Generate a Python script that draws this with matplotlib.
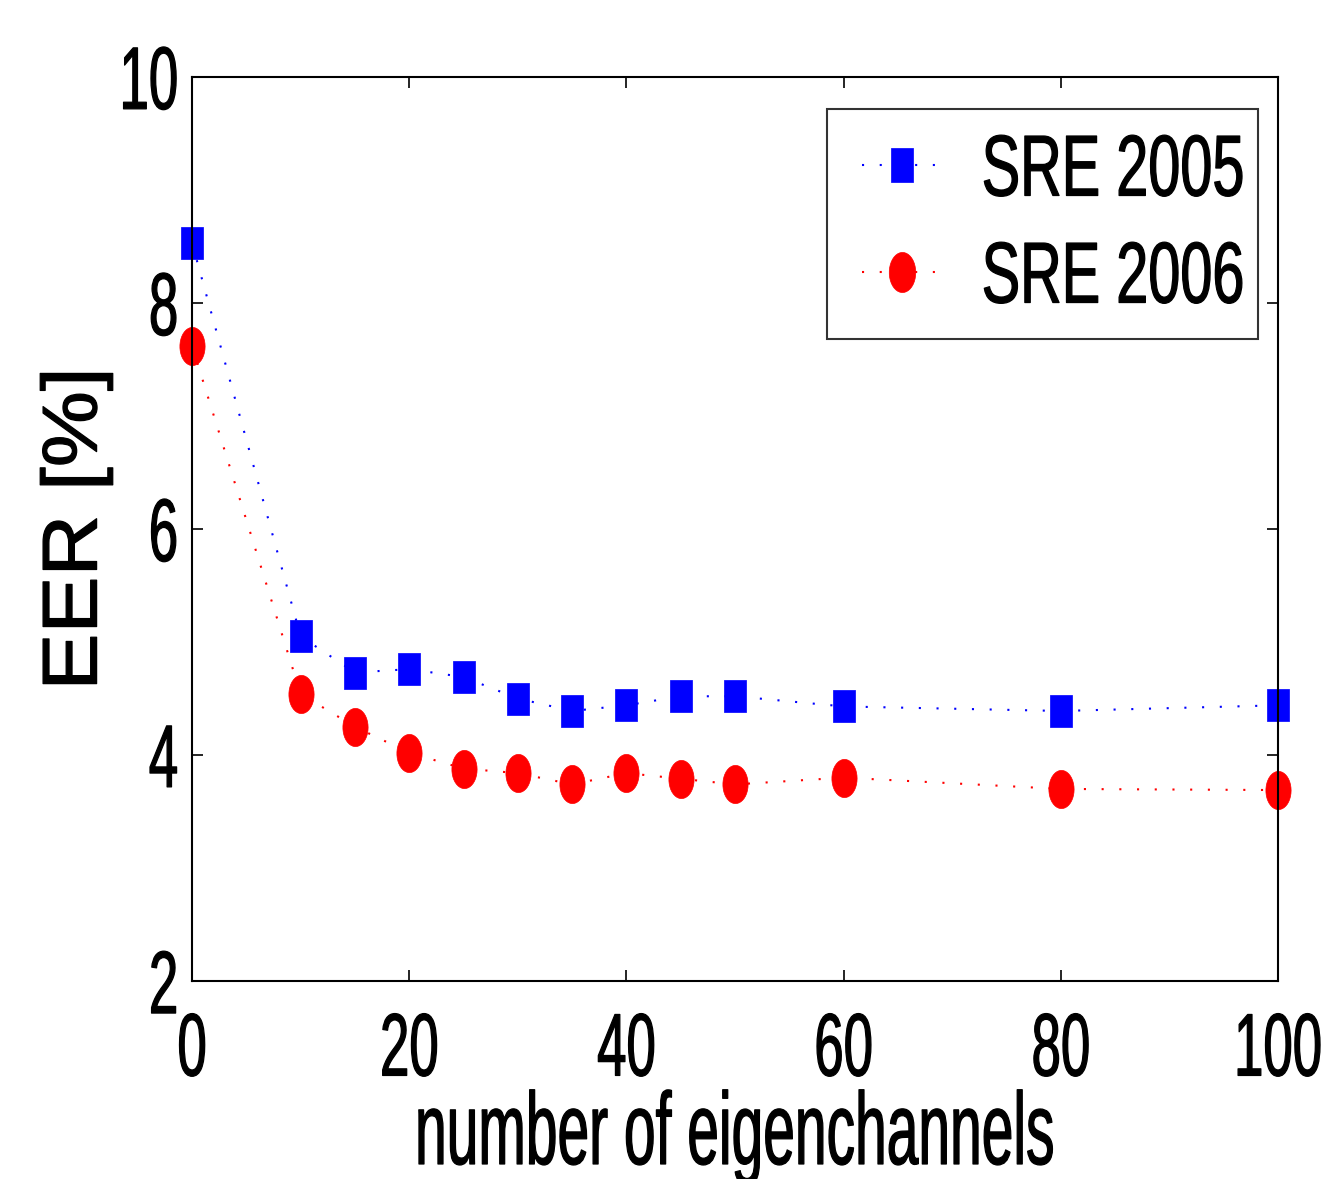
import numpy as np
import matplotlib
matplotlib.use('Agg')
import matplotlib.pyplot as plt
from matplotlib.path import Path
from matplotlib.patheffects import AbstractPathEffect
from matplotlib.transforms import Affine2D

# Daten
kanaele = [0, 10, 15, 20, 25, 30, 35, 40, 45, 50, 60, 80, 100]
sre2005 = [8.53, 5.05, 4.73, 4.76, 4.69, 4.50, 4.39, 4.44, 4.52, 4.52, 4.43, 4.39, 4.44]
sre2006 = [7.62, 4.54, 4.25, 4.02, 3.88, 3.84, 3.74, 3.84, 3.79, 3.74, 3.80, 3.70, 3.69]
xticks = [0, 20, 40, 60, 80, 100]
yticks = [2, 4, 6, 8, 10]

plt.rcParams['font.family'] = ['Liberation Sans', 'DejaVu Sans']


# Schrift hoch ziehen wie im (gestreckten) Original, etwas fetter, ggf. verschieben
class Strecken(AbstractPathEffect):
    def __init__(self, sx=1.0, sy=1.0, lw=0.9, dx=0.0, dy=0.0):
        super().__init__()
        self.sx, self.sy, self.lw = sx, sy, lw
        self.dx, self.dy = dx, dy

    def draw_path(self, renderer, gc, tpath, affine, rgbFace=None):
        ext = tpath.get_extents()
        cx = ext.x0 + ext.width / 2
        cy = ext.y0 + ext.height / 2
        t = (Affine2D().translate(-cx, -cy).scale(self.sx, self.sy).translate(cx, cy)
             + affine + Affine2D().translate(self.dx, self.dy))
        gc0 = renderer.new_gc()
        gc0.copy_properties(gc)
        gc0.set_linewidth(self.lw)
        gc0.set_foreground(rgbFace)
        gc0.set_joinstyle('round')
        renderer.draw_path(gc0, tpath, t, rgbFace)
        gc0.restore()


# gestreckte Marker (hoch statt breit)
quadrat = Path([(-0.34, -0.5), (0.34, -0.5), (0.34, 0.5), (-0.34, 0.5), (-0.34, -0.5)],
               [Path.MOVETO, Path.LINETO, Path.LINETO, Path.LINETO, Path.CLOSEPOLY])
t = np.linspace(0, 2 * np.pi, 40)
ellipse = Path(np.column_stack([0.33 * np.cos(t), 0.5 * np.sin(t)]))

fig = plt.figure(figsize=(13.3, 11.79), dpi=100)
ax = fig.add_axes([0.1444, 0.1679, 0.9609 - 0.1444, 0.9347 - 0.1679])

ax.plot(kanaele, sre2005, color='blue', linestyle=(0, (1, 7.5)), linewidth=1.5,
        marker=quadrat, markersize=23, markerfacecolor='blue', markeredgecolor='blue',
        markeredgewidth=0.5, label='SRE 2005', clip_on=False)
ax.plot(kanaele, sre2006, color='red', linestyle=(0, (1, 7.5)), linewidth=1.5,
        marker=ellipse, markersize=27.5, markerfacecolor='red', markeredgecolor='red',
        markeredgewidth=0.5, label='SRE 2006', clip_on=False)

ax.set_xlim(0, 100)
ax.set_ylim(2, 10)
ax.set_xticks(xticks)
ax.set_yticks(yticks)
ax.tick_params(direction='in', length=8, width=1.2, top=True, right=True,
               labelsize=38)
ax.tick_params(axis='x', pad=31)
ax.tick_params(axis='y', pad=10)
for s in ax.spines.values():
    s.set_linewidth(1.5)
for lab in ax.get_xticklabels() + ax.get_yticklabels():
    lab.set_path_effects([Strecken(1.0, 1.68)])

ax.set_xlabel('number of eigenchannels', fontsize=41, labelpad=26)
ax.xaxis.label.set_path_effects([Strecken(1.0, 1.8)])
ax.set_ylabel('EER [%]', fontsize=56, labelpad=5)
ax.yaxis.label.set_path_effects([Strecken(1.1, 1.0)])

leg = ax.legend(loc='upper right', fontsize=41.5, frameon=True, fancybox=False,
                edgecolor='black', handlelength=1.39, handletextpad=0.33,
                borderpad=0.6, labelspacing=0.92, borderaxespad=0,
                bbox_to_anchor=(0.9816, 0.9646), markerscale=1.05)
leg.get_frame().set_linewidth(1.5)
for txt in leg.get_texts():
    txt.set_path_effects([Strecken(1.0, 1.5, dx=21)])

fig.savefig('out.png', dpi=100)
